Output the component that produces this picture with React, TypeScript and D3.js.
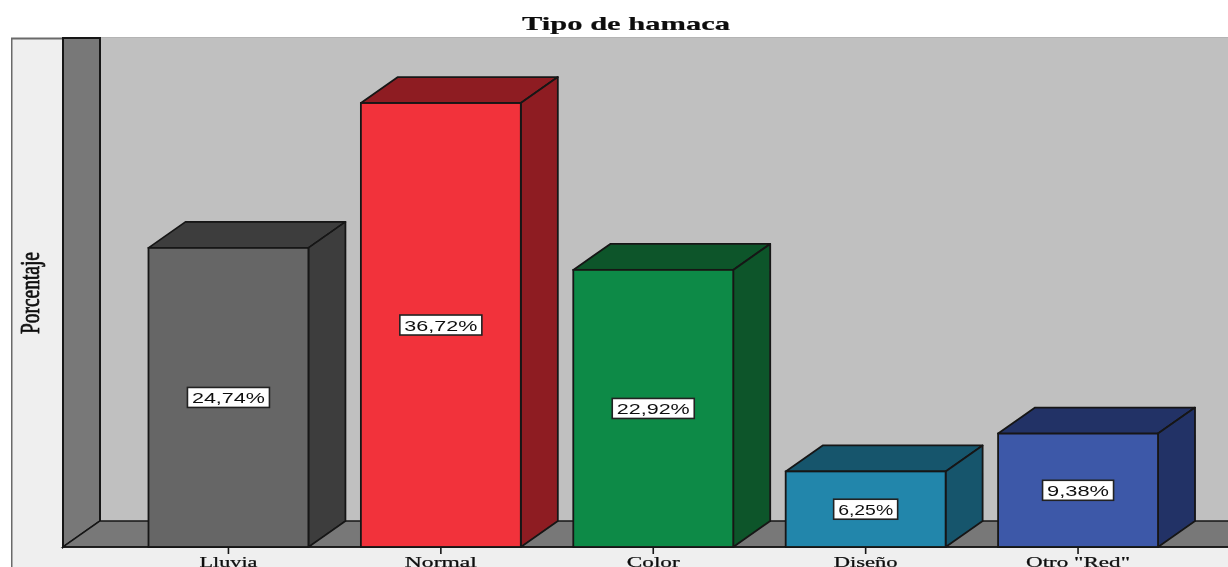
import React from "react";
import * as d3 from "d3";

const title = "Tipo de hamaca";
const yLabel = "Porcentaje";
const categories = ["Lluvia", "Normal", "Color", "Diseño", 'Otro "Red"'];
const values = [24.74, 36.72, 22.92, 6.25, 9.38];
const valueLabels = ["24,74%", "36,72%", "22,92%", "6,25%", "9,38%"];
const frontColors = ["#666666", "#f2333a", "#0e8a47", "#2386ab", "#3e58a8"];
const darkColors = ["#3e3e3e", "#8e1f23", "#0a5429", "#17546c", "#243366"];
const labelWidths = [82, 82, 82, 64, 71];
const catWidths = [58, 72, 53, 64, 104];

const W = 1228, H = 567;
const baseY = 547, topY = 38;
const wallX = 63;
const dx = 37, dy = 26;
const ink = "#161616";

const y = d3.scaleLinear().domain([0, 42.1]).range([baseY, topY]);
const x = d3.scaleBand<string>().domain(categories).range([122, 1184.5]).paddingInner(52.5 / 212.5).paddingOuter(26.5 / 212.5);

const poly = (pts: [number, number][]) => d3.line()(pts) + "Z";

export default function App() {
  const bw = x.bandwidth();
  return (
    <svg width={W} height={H} viewBox={`0 0 ${W} ${H}`} style={{ position: "absolute", left: 0, top: 0, background: "#fff" }}>
      <defs>
        <filter id="soft" x="0" y="0" width="100%" height="100%">
          <feGaussianBlur stdDeviation="0.4" />
        </filter>
      </defs>
      <g filter="url(#soft)">
        <rect x={11.5} y={38.5} width={W} height={H} fill="#efefef" stroke="#6a6a6a" strokeWidth={2} />
        <rect x={wallX + dx} y={topY} width={W} height={baseY - dy - topY} fill="#c0c0c0" />
        <path d={poly([[wallX, topY], [wallX + dx, topY], [wallX + dx, baseY - dy], [wallX, baseY]])} fill="#787878" stroke={ink} strokeWidth={2} />
        <path d={poly([[wallX, baseY], [wallX + dx, baseY - dy], [W + 5, baseY - dy], [W + 5, baseY]])} fill="#787878" stroke={ink} strokeWidth={1.5} />
        <line x1={wallX} x2={W} y1={baseY} y2={baseY} stroke={ink} strokeWidth={1.6} />

        {categories.map((c, i) => {
          const x0 = x(c)!, x1 = x0 + bw, t = y(values[i]);
          const cx = x0 + bw / 2, cy = (t + baseY) / 2;
          const lw = labelWidths[i];
          return (
            <g key={c}>
              <path d={poly([[x0, t], [x0 + dx, t - dy], [x1 + dx, t - dy], [x1, t]])} fill={darkColors[i]} stroke={ink} strokeWidth={1.8} strokeLinejoin="round" />
              <path d={poly([[x1, t], [x1 + dx, t - dy], [x1 + dx, baseY - dy], [x1, baseY]])} fill={darkColors[i]} stroke={ink} strokeWidth={1.8} strokeLinejoin="round" />
              <rect x={x0} y={t} width={bw} height={baseY - t} fill={frontColors[i]} stroke={ink} strokeWidth={1.8} />
              <rect x={cx - lw / 2} y={cy - 10} width={lw} height={20} fill="#fff" stroke="#222" strokeWidth={1.6} />
              <text x={cx} y={cy + 5.5} textAnchor="middle" fontFamily="'Liberation Sans', Arial, sans-serif" fontSize={15} fill="#111" textLength={lw - 9} lengthAdjust="spacingAndGlyphs">{valueLabels[i]}</text>
              <line x1={cx} x2={cx} y1={baseY} y2={baseY + 7} stroke={ink} strokeWidth={1.6} />
              <text x={cx} y={566.5} textAnchor="middle" fontFamily="'Liberation Serif', 'DejaVu Serif', serif" fontSize={15} fill="#111" stroke="#111" strokeWidth={0.25} textLength={catWidths[i]} lengthAdjust="spacingAndGlyphs">{c}</text>
            </g>
          );
        })}

        <text x={626} y={30} textAnchor="middle" fontFamily="'Liberation Serif', serif" fontWeight="bold" fontSize={19} fill="#111" stroke="#111" strokeWidth={0.2} textLength={208} lengthAdjust="spacingAndGlyphs">{title}</text>
        <text transform="translate(39,293) rotate(-90)" textAnchor="middle" fontFamily="'Liberation Serif', serif" fontSize={27} fill="#111" stroke="#111" strokeWidth={0.8} textLength={82} lengthAdjust="spacingAndGlyphs">{yLabel}</text>
      </g>
    </svg>
  );
}
